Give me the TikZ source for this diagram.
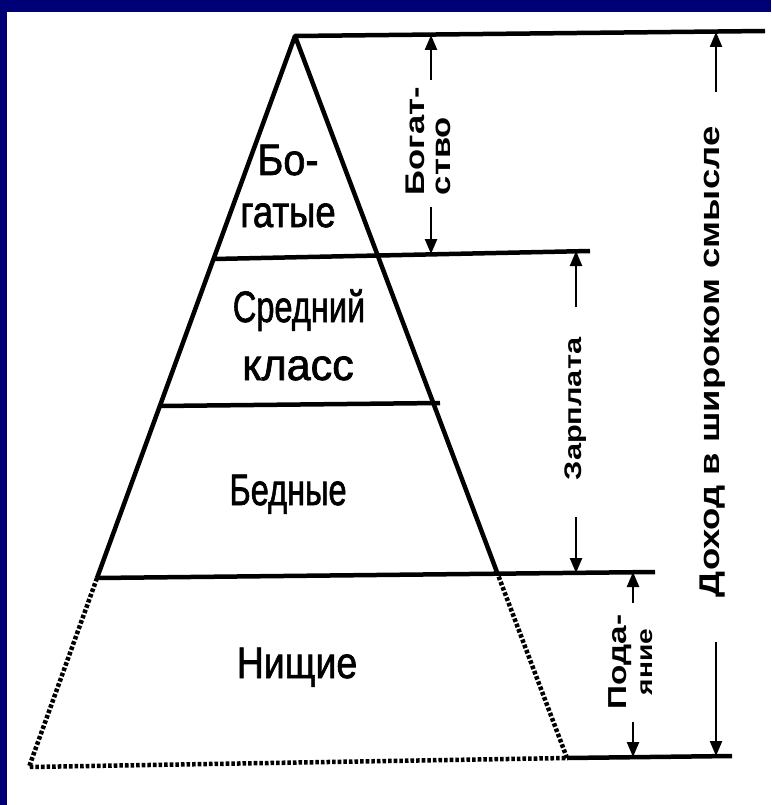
\documentclass[tikz,border=0pt]{standalone}
\usepackage{graphicx}
\usepackage{fontspec}
\setmainfont{Liberation Sans}
\newfontfamily\condfont[FakeBold=1.6]{Liberation Sans}
\newfontfamily\wb[FakeStretch=1.28]{Liberation Sans}
\usetikzlibrary{arrows.meta,calc}
\definecolor{frameblue}{RGB}{0,0,118}
\begin{document}
\begin{tikzpicture}[x=1pt,y=-1pt,
  edge/.style={line width=4.5pt, line join=round},
  lvl/.style={line width=4.5pt},
  dots/.style={line width=4.5pt, dash pattern=on 3.6pt off 2pt},
  arr/.style={line width=2.4pt, -{Triangle[width=12pt,length=15pt]}},
  lab/.style={inner sep=0pt, font=\condfont\fontsize{44}{46}\selectfont, anchor=base},
  vlab/.style={inner sep=0pt, rotate=90, font=\wb\bfseries\fontsize{26}{26}\selectfont}]
\useasboundingbox (0,0) rectangle (771,805);
\fill[frameblue] (0,0) rectangle (771,805);
\fill[white] (7,12) rectangle (771,805);
% key points
\coordinate (A) at (295,36);
\coordinate (TR) at (765,31);
\coordinate (L1l) at (214,259); \coordinate (L1r) at (590,251);
\coordinate (L2l) at (160,406); \coordinate (L2r) at (440,403);
\coordinate (L3l) at (97,578);  \coordinate (L3r) at (655,572);
\coordinate (BL) at (29,767);   \coordinate (BR) at (567,758); \coordinate (BE) at (732,756);
\coordinate (R3) at ($(A)!0.7415!(BR)$);
% pyramid
\draw[edge] (L3l) -- (A) -- (R3);
\draw[lvl] (A) -- (TR);
\draw[lvl] (L1l) -- (L1r);
\draw[lvl] (L2l) -- (L2r);
\draw[lvl] (L3l) -- (L3r);
\draw[dots] (L3l) -- (BL) -- (BR);
\draw[dots] (R3) -- (BR);
\draw[lvl] (BR) -- (BE);
% labels inside
\node[lab] (bo1) at (288,175) {\scalebox{0.9}[1]{Бо-}};
\node[lab] (bo2) at (288,227) {\scalebox{0.83}[1]{гатые}};
\node[lab] (sr1) at (299,322) {\scalebox{0.74}[1]{Средний}};
\node[lab] (sr2) at (298,380) {\scalebox{0.98}[1]{класс}};
\node[lab] (bed) at (288,505) {\scalebox{0.74}[1]{Бедные}};
\node[lab] (nis) at (297,678) {\scalebox{0.85}[1]{Нищие}};
% vertical labels
\node[vlab, align=left, font=\wb\bfseries\fontsize{27}{26}\selectfont] (bog) at (428,141) {Богат-\\ство};
\node[vlab, font=\wb\bfseries\fontsize{24}{26}\selectfont] (zar) at (576,409) {Зарплата};
\node[vlab, align=center] (pod) at (631,662) {Пода-\\{\fontsize{22}{22}\selectfont яние}};
\node[vlab, font=\wb\bfseries\fontsize{28.5}{30}\selectfont] (doh) at (713,362) {Доход в широком смысле};
% arrow ends
\coordinate (b1s) at (431,80);  \coordinate (b1e) at (431,35);
\coordinate (b2s) at (431,207); \coordinate (b2e) at (431,254);
\coordinate (z1s) at (576,307); \coordinate (z1e) at (576,251);
\coordinate (z2s) at (576,517); \coordinate (z2e) at (576,573);
\coordinate (p1s) at (633,603); \coordinate (p1e) at (633,572);
\coordinate (p2s) at (633,722); \coordinate (p2e) at (633,757);
\coordinate (d1s) at (716,92);  \coordinate (d1e) at (716,32);
\coordinate (d2s) at (716,642); \coordinate (d2e) at (716,756);
\draw[arr] (b1s) -- (b1e);
\draw[arr] (b2s) -- (b2e);
\draw[arr] (z1s) -- (z1e);
\draw[arr] (z2s) -- (z2e);
\draw[arr] (p1s) -- (p1e);
\draw[arr] (p2s) -- (p2e);
\draw[arr] (d1s) -- (d1e);
\draw[arr] (d2s) -- (d2e);
\end{tikzpicture}
\end{document}
